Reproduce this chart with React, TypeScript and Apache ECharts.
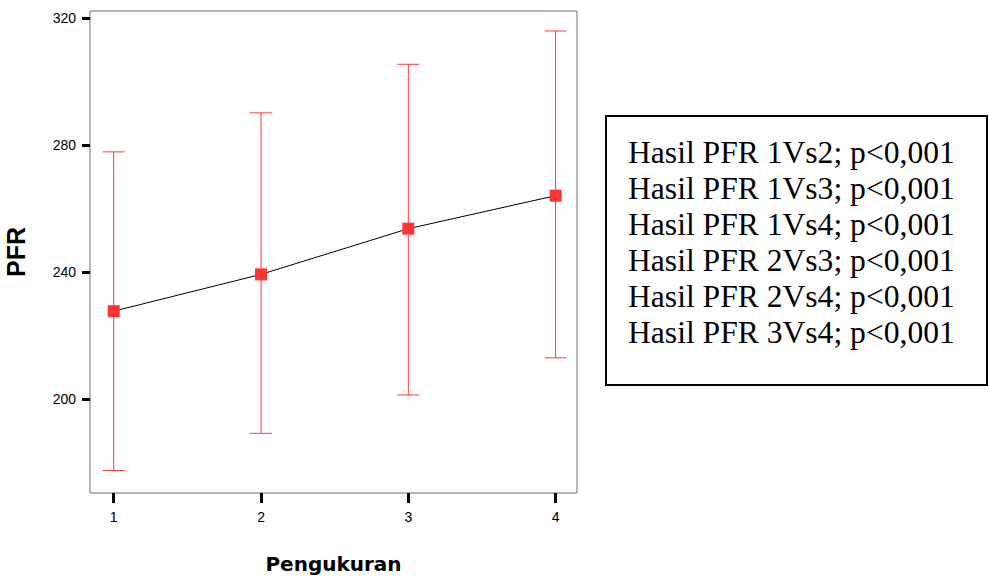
import React, { useEffect, useRef } from "react";
import * as echarts from "echarts";

const categories = [1, 2, 3, 4];
const means = [227.6, 239.2, 253.6, 264.0];
const upper = [277.8, 290.1, 305.4, 315.9];
const lower = [177.4, 189.1, 201.2, 212.9];
const yTicks = [200, 240, 280, 320];
const noteLines = [
  "Hasil PFR 1Vs2; p<0,001",
  "Hasil PFR 1Vs3; p<0,001",
  "Hasil PFR 1Vs4; p<0,001",
  "Hasil PFR 2Vs3; p<0,001",
  "Hasil PFR 2Vs4; p<0,001",
  "Hasil PFR 3Vs4; p<0,001",
];

export default function App() {
  const ref = useRef<HTMLDivElement>(null);
  useEffect(() => {
    if (!ref.current) return;
    const chart = echarts.init(ref.current, null, { renderer: "svg" });
    const errData = categories.map((c, i) => [c, lower[i], upper[i]]);
    chart.setOption({
      animation: false,
      backgroundColor: "#fff",
      grid: {
        left: 90,
        top: 11,
        width: 487,
        height: 486,
        show: true,
        borderColor: "#707070",
        borderWidth: 1,
        backgroundColor: "transparent",
      },
      xAxis: {
        type: "value",
        min: 0.839,
        max: 4.145,
        name: "Pengukuran",
        nameLocation: "middle",
        nameGap: 61,
        nameTextStyle: {
          fontFamily: "DejaVu Sans",
          fontWeight: "bold",
          fontSize: 20,
          color: "#000",
        },
        splitLine: { show: false },
        axisLine: { show: false },
        axisTick: {
          show: true,
          customValues: categories,
          length: 10,
          lineStyle: { color: "#000", width: 3 },
        },
        axisLabel: {
          customValues: categories,
          margin: 17,
          fontFamily: "Liberation Sans",
          fontSize: 14,
          color: "#000",
        },
      },
      yAxis: {
        type: "value",
        min: 170.3,
        max: 322.2,
        name: "PFR",
        nameLocation: "middle",
        nameGap: 62,
        nameTextStyle: {
          fontFamily: "Liberation Sans",
          fontWeight: "bold",
          fontSize: 25,
          color: "#000",
        },
        splitLine: { show: false },
        axisLine: { show: false },
        axisTick: {
          show: true,
          customValues: yTicks,
          length: 8,
          lineStyle: { color: "#000", width: 3 },
        },
        axisLabel: {
          customValues: yTicks,
          margin: 14,
          fontFamily: "Liberation Sans",
          fontSize: 14,
          color: "#000",
        },
      },
      graphic: [
        {
          type: "rect",
          shape: { x: 606, y: 116, width: 381, height: 269 },
          style: { fill: "#fff", stroke: "#000", lineWidth: 2 },
        },
        {
          type: "text",
          x: 628,
          y: 134,
          style: {
            text: noteLines.join("\n"),
            fontFamily: "Liberation Serif",
            fontSize: 31.6,
            lineHeight: 36,
            fill: "#000",
            textVerticalAlign: "top",
          },
        },
      ],
      series: [
        {
          type: "custom",
          data: errData,
          encode: { x: 0, y: [1, 2] },
          z: 1,
          renderItem: (params: any, api: any) => {
            const x = api.value(0);
            const lo = api.coord([x, api.value(1)]);
            const hi = api.coord([x, api.value(2)]);
            const hw = 11;
            const style = { stroke: "#ff3b3b", lineWidth: 1, fill: "none" };
            return {
              type: "group",
              children: [
                { type: "line", shape: { x1: hi[0], y1: hi[1], x2: lo[0], y2: lo[1] }, style },
                { type: "line", shape: { x1: hi[0] - hw, y1: hi[1], x2: hi[0] + hw, y2: hi[1] }, style },
                { type: "line", shape: { x1: lo[0] - hw, y1: lo[1], x2: lo[0] + hw, y2: lo[1] }, style },
              ],
            };
          },
        },
        {
          type: "line",
          data: categories.map((c, i) => [c, means[i]]),
          z: 3,
          symbol: "rect",
          symbolSize: 12,
          itemStyle: { color: "#ff3333" },
          lineStyle: { color: "#000", width: 1 },
        },
      ],
    });
    return () => chart.dispose();
  }, []);
  return (
    <div
      ref={ref}
      style={{ position: "fixed", left: 0, top: 0, width: 989, height: 579 }}
    />
  );
}
